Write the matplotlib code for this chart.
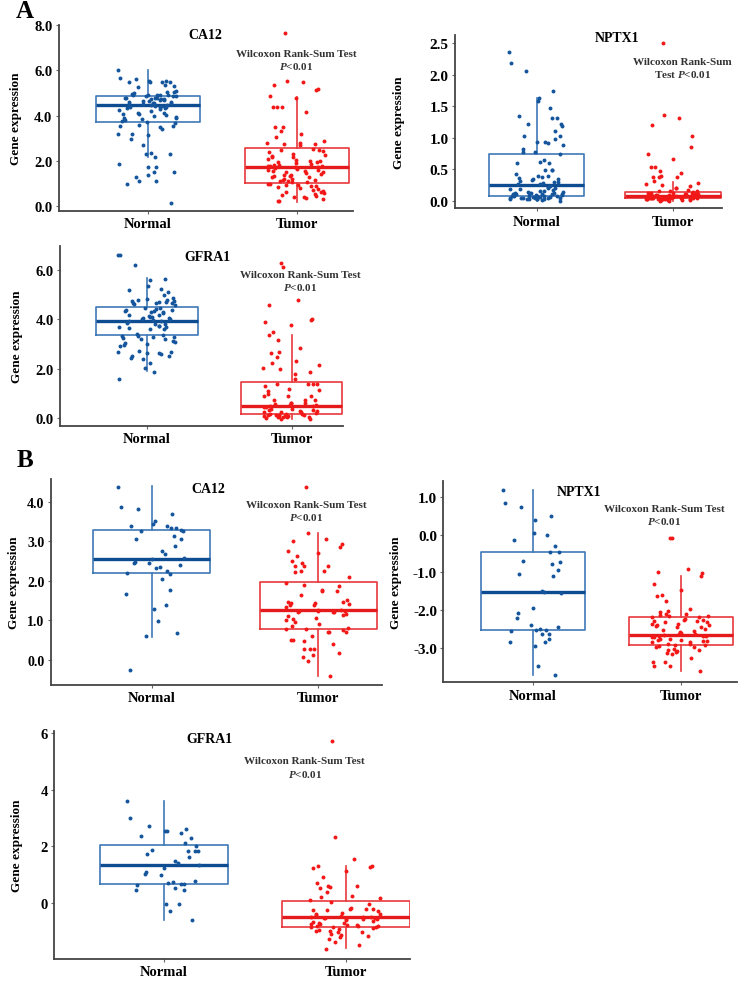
import numpy as np
import matplotlib
matplotlib.use("Agg")
import matplotlib.pyplot as plt

plt.rcParams['font.family'] = ['Liberation Serif', 'DejaVu Serif']
plt.rcParams['font.weight'] = 'bold'
plt.rcParams['mathtext.fontset'] = 'custom'
plt.rcParams['mathtext.it'] = 'Liberation Serif:italic:bold'
plt.rcParams['mathtext.rm'] = 'Liberation Serif:bold'

W, H = 748, 987
groups = ["Normal", "Tumor"]

# ---- data ----
# box stats: [whisker low, q1, median, q3, whisker high]
a_ca12_normal = [6.04, 5.65, 5.60, 5.55, 5.50, 5.55, 5.50, 5.47, 5.50, 5.36, 5.30, 5.25, 5.10, 5.06,
                 5.03, 4.99, 4.92, 4.90, 4.93, 4.88, 4.91, 4.89, 4.95, 4.87, 4.85, 4.80, 4.75, 4.72,
                 4.78, 4.70, 4.76, 4.73, 4.79, 4.71, 4.65, 4.55, 4.60, 4.52, 4.58, 4.50, 4.63, 4.57,
                 4.54, 4.48, 4.42, 4.35, 4.40, 4.30, 4.45, 4.38, 4.33, 4.41, 4.36, 4.25, 4.20, 4.10,
                 4.05, 4.00, 4.08, 4.02, 4.12, 3.95, 3.85, 3.75, 3.90, 3.80, 3.72, 3.88, 3.65, 3.55,
                 3.57, 3.53, 3.50, 3.40, 3.20, 3.15, 3.18, 2.95, 2.70, 2.30, 2.32, 2.28, 2.15, 1.85,
                 1.70, 1.72, 1.50, 1.48, 1.35, 1.25, 1.10, 1.08, 0.95, 0.12]
a_ca12_tumor = [7.67, 5.55, 5.47, 5.36, 5.18, 5.13, 4.85, 4.80, 4.40, 4.40, 4.40, 4.17, 3.47, 3.47,
                3.33, 3.18, 3.03, 2.88, 2.80, 2.75, 2.72, 2.78, 2.70, 2.50, 2.45, 2.42, 2.48, 2.40,
                2.28, 2.20, 2.25, 2.15, 2.18, 2.05, 1.95, 2.00, 1.92, 1.98, 2.02, 1.90, 1.85, 1.80,
                1.75, 1.72, 1.78, 1.70, 1.82, 1.74, 1.65, 1.62, 1.55, 1.50, 1.58, 1.48, 1.60, 1.52,
                1.45, 1.40, 1.35, 1.30, 1.25, 1.38, 1.28, 1.32, 1.20, 1.18, 1.12, 1.05, 1.15, 1.08,
                1.03, 1.10, 0.98, 0.95, 0.90, 0.85, 0.80, 0.92, 0.88, 0.82, 0.75, 0.70, 0.65, 0.60,
                0.55, 0.50, 0.62, 0.45, 0.44, 0.40, 0.35, 0.30, 0.38, 0.22, 0.20]
a_ca12_box_n = [2.14, 3.71, 4.45, 4.88, 6.04]
a_ca12_box_t = [0.15, 1.00, 1.72, 2.54, 4.81]

a_nptx1_normal = [2.36, 2.18, 2.06, 1.74, 1.63, 1.59, 1.47, 1.35, 1.32, 1.32, 1.21, 1.21, 1.19, 1.10,
                  1.03, 1.03, 0.98, 0.93, 0.92, 0.88, 0.93, 0.82, 0.78, 0.77, 0.74, 0.64, 0.62, 0.60,
                  0.60, 0.48, 0.48, 0.48, 0.42, 0.40, 0.40, 0.37, 0.35, 0.33, 0.36, 0.32, 0.34, 0.30,
                  0.28, 0.26, 0.24, 0.27, 0.29, 0.22, 0.21, 0.19, 0.17, 0.16, 0.20, 0.18, 0.15, 0.14,
                  0.12, 0.10, 0.08, 0.13, 0.11, 0.09, 0.12, 0.10, 0.14, 0.11, 0.09, 0.13, 0.10, 0.08,
                  0.07, 0.05, 0.04, 0.06, 0.03, 0.07, 0.05, 0.04, 0.06, 0.08, 0.06, 0.05, 0.07, 0.04,
                  0.03, 0.02, 0.01, 0.00, 0.03, 0.02, 0.02]
a_nptx1_tumor = [2.50, 1.36, 1.31, 1.20, 1.02, 0.86, 0.74, 0.67, 0.54, 0.54, 0.47, 0.44, 0.40, 0.38,
                 0.37, 0.37, 0.31, 0.28, 0.26, 0.25, 0.24, 0.21, 0.20, 0.17, 0.16, 0.15, 0.14, 0.13,
                 0.16, 0.12, 0.11, 0.10, 0.09, 0.08, 0.12, 0.10, 0.09, 0.11, 0.08, 0.12, 0.10, 0.09,
                 0.08, 0.07, 0.06, 0.05, 0.04, 0.03, 0.07, 0.06, 0.05, 0.04, 0.03, 0.06, 0.05, 0.04,
                 0.06, 0.07, 0.03, 0.05, 0.04, 0.06, 0.07, 0.02, 0.01, 0.00, 0.02, 0.01, 0.00, 0.02,
                 0.01, 0.03, 0.02, 0.05, 0.03, 0.01, 0.08]
a_nptx1_box_n = [0.00, 0.08, 0.25, 0.74, 1.63]
a_nptx1_box_t = [0.00, 0.04, 0.08, 0.14, 0.30]

a_gfra1_normal = [6.60, 6.60, 6.23, 5.65, 5.60, 5.36, 5.25, 5.20, 5.11, 4.98, 4.89, 4.80, 4.75, 4.70,
                  4.65, 4.62, 4.78, 4.68, 4.72, 4.60, 4.82, 4.66, 4.74, 4.45, 4.40, 4.35, 4.30, 4.48,
                  4.38, 4.32, 4.42, 4.28, 4.36, 4.20, 4.15, 4.10, 4.05, 4.00, 3.95, 4.18, 4.08, 4.02,
                  3.98, 4.12, 3.94, 3.85, 3.80, 3.75, 3.70, 3.65, 3.60, 3.82, 3.72, 3.68, 3.62, 3.40,
                  3.35, 3.30, 3.25, 3.20, 3.38, 3.28, 3.22, 3.32, 3.10, 3.05, 3.00, 2.95, 3.12, 2.93,
                  2.72, 2.68, 2.65, 2.60, 2.70, 2.62, 2.50, 2.45, 2.40, 2.52, 2.25, 2.05, 1.88, 1.58]
a_gfra1_tumor = [6.30, 6.14, 4.79, 4.57, 4.03, 3.98, 3.90, 3.77, 3.51, 3.36, 3.17, 2.86, 2.69, 2.63,
                 2.46, 2.30, 2.25, 2.15, 2.05, 1.98, 1.85, 1.78, 1.58, 1.40, 1.40, 1.40, 1.40, 1.31,
                 1.17, 1.10, 1.12, 0.97, 0.90, 0.90, 0.90, 0.73, 0.73, 0.73, 0.63, 0.63, 0.63, 0.57,
                 0.52, 0.48, 0.45, 0.55, 0.50, 0.43, 0.38, 0.36, 0.32, 0.28, 0.26, 0.25, 0.34, 0.30,
                 0.23, 0.20, 0.18, 0.16, 0.14, 0.13, 0.12, 0.10, 0.09, 0.08, 0.06, 0.05, 0.04, 0.03,
                 0.15, 0.11, 0.07, 0.02, -0.04, -0.04]
a_gfra1_box_n = [1.89, 3.39, 3.94, 4.52, 5.70]
a_gfra1_box_t = [-0.05, 0.16, 0.50, 1.47, 3.37]

b_ca12_normal = [4.38, 3.86, 3.83, 3.69, 3.51, 3.44, 3.40, 3.40, 3.34, 3.34, 3.30, 3.27, 3.27, 3.13,
                 3.06, 3.05, 2.88, 2.75, 2.68, 2.59, 2.55, 2.47, 2.45, 2.45, 2.40, 2.34, 2.32, 2.26,
                 2.21, 2.17, 2.04, 1.77, 1.67, 1.39, 1.29, 0.99, 0.67, 0.59, -0.26]
b_ca12_tumor = [4.38, 3.20, 3.05, 3.02, 2.93, 2.85, 2.75, 2.70, 2.64, 2.51, 2.44, 2.37, 2.37, 2.37,
                2.26, 2.26, 2.23, 2.09, 1.95, 1.90, 1.88, 1.76, 1.75, 1.73, 1.65, 1.51, 1.47, 1.47,
                1.45, 1.45, 1.40, 1.39, 1.39, 1.33, 1.26, 1.24, 1.22, 1.20, 1.25, 1.23, 1.21, 1.24,
                1.16, 1.14, 1.12, 1.06, 1.03, 1.00, 0.95, 0.90, 0.86, 0.80, 0.78, 0.77, 0.76, 0.70,
                0.70, 0.70, 0.61, 0.51, 0.49, 0.47, 0.40, 0.27, 0.27, 0.27, 0.17, 0.11, 0.06, -0.02,
                -0.41]
b_ca12_box_n = [0.58, 2.19, 2.55, 3.29, 4.39]
b_ca12_box_t = [-0.40, 0.78, 1.25, 1.96, 3.21]

b_nptx1_normal = [1.19, 0.84, 0.72, 0.50, 0.38, 0.04, 0.00, -0.14, -0.30, -0.45, -0.45, -0.70, -0.74,
                  -0.78, -0.95, -1.04, -1.11, -1.49, -1.52, -1.55, -1.94, -2.09, -2.21, -2.40, -2.46,
                  -2.50, -2.52, -2.53, -2.55, -2.64, -2.64, -2.76, -2.84, -2.86, -2.95, -3.50, -3.73]
b_nptx1_tumor = [-0.08, -0.08, -0.92, -0.99, -1.03, -1.11, -1.31, -1.46, -1.60, -1.63, -1.75, -1.97,
                 -2.02, -2.06, -2.10, -2.12, -2.14, -2.16, -2.18, -2.15, -2.20, -2.25, -2.27, -2.29,
                 -2.31, -2.33, -2.26, -2.30, -2.37, -2.39, -2.41, -2.43, -2.46, -2.38, -2.44, -2.50,
                 -2.53, -2.55, -2.58, -2.60, -2.64, -2.66, -2.68, -2.70, -2.73, -2.65, -2.69, -2.72,
                 -2.77, -2.79, -2.81, -2.83, -2.86, -2.78, -2.82, -2.85, -2.90, -2.92, -2.94, -2.96,
                 -2.99, -2.91, -2.97, -3.04, -3.06, -3.08, -3.05, -3.12, -3.15, -3.17, -3.27, -3.37,
                 -3.37, -3.50, -3.50, -3.61]
b_nptx1_box_n = [-3.73, -2.54, -1.52, -0.45, 1.19]
b_nptx1_box_t = [-3.61, -2.93, -2.67, -2.18, -1.11]

b_gfra1_normal = [3.61, 2.99, 2.71, 2.60, 2.55, 2.55, 2.46, 2.38, 2.29, 2.10, 2.00, 1.87, 1.82, 1.82,
                  1.82, 1.73, 1.62, 1.49, 1.40, 1.33, 1.22, 1.08, 1.02, 1.00, 0.79, 0.74, 0.71, 0.67,
                  0.65, 0.67, 0.51, 0.47, 0.44, -0.04, -0.04, -0.29, -0.62]
b_gfra1_tumor = [5.71, 2.34, 1.55, 1.32, 1.30, 1.28, 1.24, 1.14, 0.91, 0.69, 0.60, 0.58, 0.55, 0.53,
                 0.38, 0.24, 0.20, 0.16, 0.10, 0.05, -0.04, -0.19, -0.21, -0.23, -0.25, -0.27, -0.20,
                 -0.24, -0.36, -0.38, -0.40, -0.43, -0.45, -0.48, -0.50, -0.52, -0.54, -0.56, -0.58,
                 -0.60, -0.49, -0.53, -0.57, -0.65, -0.67, -0.70, -0.72, -0.74, -0.76, -0.78, -0.80,
                 -0.82, -0.84, -0.86, -0.88, -0.77, -0.81, -0.85, -0.92, -0.95, -0.98, -1.00, -1.02,
                 -1.04, -1.09, -1.12, -1.16, -1.21, -1.27, -1.39, -1.50, -1.62]
b_gfra1_box_n = [-0.62, 0.68, 1.34, 2.06, 3.60]
b_gfra1_box_t = [-1.60, -0.86, -0.50, 0.06, 1.30]

WILCOX = "Wilcoxon Rank-Sum Test\n$P$<0.01"
WILCOX2 = "Wilcoxon Rank-Sum\nTest $P$<0.01"

# layout: axes rectangle in pixels (left, top, right, bottom)
panels = [
    dict(gene="CA12", n=a_ca12_normal, t=a_ca12_tumor, bn=a_ca12_box_n, bt=a_ca12_box_t,
         rect=(58.7, 26, 353, 212), xlim=(0.403, 2.378), ylim=(-0.24, 8.02),
         yticks=[0, 2, 4, 6, 8], fmt="{:.1f}", title=(1.385, 7.62), wx=1.995, wy=6.48,
         wtext=WILCOX, ylab=22, tsize=10.5),
    dict(gene="NPTX1", n=a_nptx1_normal, t=a_nptx1_tumor, bn=a_nptx1_box_n, bt=a_nptx1_box_t,
         rect=(455, 36, 722, 209.3), xlim=(0.40, 2.36), ylim=(-0.12, 2.63),
         yticks=[0, 0.5, 1, 1.5, 2, 2.5], fmt="{:.1f}", title=(1.59, 2.595), wx=2.07, wy=2.11,
         wtext=WILCOX2, ylab=405, tsize=11),
    dict(gene="GFRA1", n=a_gfra1_normal, t=a_gfra1_tumor, bn=a_gfra1_box_n, bt=a_gfra1_box_t,
         rect=(60, 247.3, 343, 426.7), xlim=(0.399, 2.354), ylim=(-0.31, 6.97),
         yticks=[0, 2, 4, 6], fmt="{:.1f}", title=(1.42, 6.57), wx=2.06, wy=5.575,
         wtext=WILCOX, ylab=22.7, tsize=10.5),
    dict(gene="CA12", n=b_ca12_normal, t=b_ca12_tumor, bn=b_ca12_box_n, bt=b_ca12_box_t,
         rect=(50.7, 480, 382, 686), xlim=(0.394, 2.382), ylim=(-0.64, 4.58),
         yticks=[0, 1, 2, 3, 4], fmt="{:.1f}", title=(1.337, 4.35), wx=1.926, wy=3.77,
         wtext=WILCOX, ylab=20, tsize=10),
    dict(gene="NPTX1", n=b_nptx1_normal, t=b_nptx1_tumor, bn=b_nptx1_box_n, bt=b_nptx1_box_t,
         rect=(443.3, 481.7, 736.7, 683.3), xlim=(0.397, 2.376), ylim=(-3.92, 1.43),
         yticks=[-3, -2, -1, 0, 1], fmt="{:.1f}", title=(1.31, 1.135), wx=1.887, wy=0.525,
         wtext=WILCOX, ylab=401.7, tsize=11),
    dict(gene="GFRA1", n=b_gfra1_normal, t=b_gfra1_tumor, bn=b_gfra1_box_n, bt=b_gfra1_box_t,
         rect=(54.3, 731.7, 410, 960), xlim=(0.40, 2.35), ylim=(-1.98, 6.08),
         yticks=[0, 2, 4, 6], fmt="{:d}", title=(1.25, 5.82), wx=1.773, wy=4.785,
         wtext=WILCOX, ylab=22.7, tsize=10.5),
]

NORMAL_PT, NORMAL_BOX, NORMAL_MED = "#14559c", "#3f78b8", "#0e4c91"
TUMOR_PT, TUMOR_BOX, TUMOR_MED = "#f21818", "#e8383d", "#e41a1c"

fig = plt.figure(figsize=(W / 100, H / 100), dpi=100)
fig.patch.set_facecolor("white")


def jitter(n, shift):
    # sideways spread of the dots inside each box (layout only, quadratic Weyl sequence)
    i = np.arange(n)
    return 0.4 * (((i * i * 0.6180339887 + i * 0.4142135 + shift) % 1.0) - 0.5)


for p in panels:
    l, t, r, b = p["rect"]
    ax = fig.add_axes([l / W, 1 - b / H, (r - l) / W, (b - t) / H])
    stats = []
    for box in (p["bn"], p["bt"]):
        stats.append(dict(whislo=box[0], q1=box[1], med=box[2], q3=box[3],
                          whishi=box[4], fliers=[]))
    art = ax.bxp(stats, positions=[1, 2], widths=0.7, showcaps=False,
                 showfliers=False, manage_ticks=False)
    for i, (bc, mc) in enumerate([(NORMAL_BOX, NORMAL_MED), (TUMOR_BOX, TUMOR_MED)]):
        art["boxes"][i].set_color(bc)
        art["boxes"][i].set_linewidth(1.2)
        art["medians"][i].set_color(mc)
        art["medians"][i].set_linewidth(2.4)
        for w in art["whiskers"][2 * i:2 * i + 2]:
            w.set_color(bc)
            w.set_linewidth(1.2)

    for k, (vals, col) in enumerate([(p["n"], NORMAL_PT), (p["t"], TUMOR_PT)]):
        x = (k + 1) + jitter(len(vals), 0.31 * k)
        ax.scatter(x, vals, s=8, color=col, linewidths=0, zorder=3)

    ax.set_xlim(*p["xlim"])
    ax.set_ylim(*p["ylim"])
    ax.set_xticks([1, 2])
    ax.set_xticklabels(groups, fontsize=10.5, fontweight="bold")
    ax.set_yticks(p["yticks"])
    if p["fmt"] == "{:d}":
        ax.set_yticklabels([str(int(v)) for v in p["yticks"]], fontsize=p["tsize"], fontweight="bold")
    else:
        ax.set_yticklabels([p["fmt"].format(v) for v in p["yticks"]], fontsize=p["tsize"],
                           fontweight="bold")
    ax.tick_params(axis="both", length=2.5, width=0.8, color="#666666", pad=2)
    for s in ("top", "right"):
        ax.spines[s].set_visible(False)
    for s in ("left", "bottom"):
        ax.spines[s].set_color("#444444")
        ax.spines[s].set_linewidth(1.3)

    ax.set_ylabel("Gene expression", fontsize=9.5, fontweight="bold")
    ax.yaxis.set_label_coords((p["ylab"] - l) / (r - l), 0.5)

    ax.text(p["title"][0], p["title"][1], p["gene"], ha="center", va="center",
            fontsize=10, fontweight="bold")
    ax.text(p["wx"], p["wy"], p["wtext"], ha="center", va="center", fontsize=8,
            fontweight="bold", color="#333333", linespacing=1.25)

fig.text(16 / W, 1 - 18 / H, "A", fontsize=18, fontweight="bold", va="baseline")
fig.text(17 / W, 1 - 467 / H, "B", fontsize=18, fontweight="bold", va="baseline")

fig.savefig("out.png", dpi=100)
